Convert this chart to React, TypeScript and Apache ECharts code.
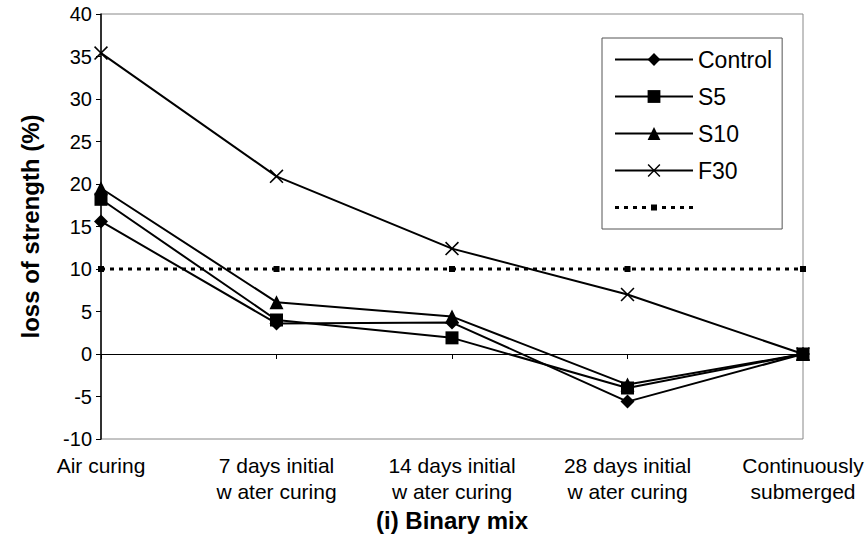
import React, { useEffect, useRef } from "react";
import * as echarts from "echarts";

const categories = [
  "Air curing",
  "7 days initial\nw ater curing",
  "14 days initial\nw ater curing",
  "28 days initial\nw ater curing",
  "Continuously\nsubmerged",
];
const controlValues = [15.6, 3.6, 3.7, -5.6, 0];
const s5Values = [18.2, 4.0, 1.9, -4.0, 0];
const s10Values = [19.5, 6.1, 4.4, -3.6, 0];
const f30Values = [35.4, 20.9, 12.4, 7.0, 0];
const limitValues = [10, 10, 10, 10, 10];
const yTicks = { min: -10, max: 40, interval: 5 };

const FONT = "'Liberation Sans', Arial, sans-serif";
const CROSS = "path://M0,1.6L1.6,0L10,8.4L18.4,0L20,1.6L11.6,10L20,18.4L18.4,20L10,11.6L1.6,20L0,18.4L8.4,10Z";

// legend icon for the dotted limit line: dashes with a small square in the middle
const dashSegs = [0, 9, 18, 27, 47, 56, 65, 74];
const DOTTED_ICON =
  "path://" +
  dashSegs.map((x) => `M${x},6.5L${x + 4},6.5L${x + 4},9.5L${x},9.5Z`).join("") +
  "M36,5L42,5L42,11L36,11Z";

export default function App() {
  const ref = useRef<HTMLDivElement>(null);
  useEffect(() => {
    if (!ref.current) return;
    const chart = echarts.init(ref.current, null, { renderer: "svg" });
    const lineSeries = (name: string, data: number[], symbol: string, size: number) => ({
      name,
      type: "line",
      data,
      symbol,
      symbolSize: size,
      showAllSymbol: true,
      lineStyle: { color: "#000", width: 2 },
      itemStyle: { color: "#000" },
      z: 3,
    });
    chart.setOption({
      animation: false,
      backgroundColor: "#fff",
      textStyle: { fontFamily: FONT, color: "#000" },
      grid: {
        left: 101,
        top: 14,
        right: 65,
        bottom: 108,
        show: true,
        borderColor: "#888",
        borderWidth: 1,
        backgroundColor: "transparent",
      },
      legend: {
        orient: "vertical",
        left: 602,
        top: 38,
        padding: [10, 10, 10, 12],
        itemWidth: 78,
        itemHeight: 16,
        itemGap: 14,
        backgroundColor: "#fff",
        borderColor: "#555",
        borderWidth: 1,
        borderRadius: 0,
        textStyle: { fontSize: 23, fontFamily: FONT, color: "#000" },
        data: [
          "Control",
          "S5",
          "S10",
          "F30",
          { name: " ", icon: DOTTED_ICON, itemStyle: { color: "#000" } },
        ],
      },
      xAxis: [
        {
          type: "category",
          data: categories,
          boundaryGap: false,
          position: "bottom",
          axisLine: { show: false, onZero: false },
          axisTick: { show: false },
          axisLabel: {
            fontSize: 21,
            lineHeight: 26,
            margin: 13,
            color: "#000",
            fontFamily: FONT,
            interval: 0,
          },
          name: "(i) Binary mix",
          nameLocation: "middle",
          nameGap: 67,
          nameTextStyle: { fontSize: 24, fontWeight: "bold", color: "#000", fontFamily: FONT },
          splitLine: { show: false },
        },
        {
          type: "category",
          data: categories,
          boundaryGap: false,
          position: "top",
          axisLine: { show: true, onZero: true, lineStyle: { color: "#000", width: 1 } },
          axisTick: { show: true, inside: true, length: 5, lineStyle: { color: "#000" } },
          axisLabel: { show: false },
          splitLine: { show: false },
        },
      ],
      yAxis: {
        type: "value",
        min: yTicks.min,
        max: yTicks.max,
        interval: yTicks.interval,
        axisLine: { show: true, lineStyle: { color: "#000", width: 1.5 } },
        axisTick: { show: true, length: 5, lineStyle: { color: "#000" } },
        axisLabel: { fontSize: 20, margin: 9, color: "#000", fontFamily: FONT },
        splitLine: { show: false },
        name: "loss of strength (%)",
        nameLocation: "middle",
        nameGap: 59,
        nameTextStyle: { fontSize: 24, fontWeight: "bold", color: "#000", fontFamily: FONT },
      },
      series: [
        lineSeries("Control", controlValues, "diamond", 14),
        lineSeries("S5", s5Values, "rect", 13),
        lineSeries("S10", s10Values, "triangle", 14),
        lineSeries("F30", f30Values, CROSS, 14),
        {
          name: " ",
          type: "line",
          data: limitValues,
          symbol: "rect",
          symbolSize: 6,
          lineStyle: { color: "#000", width: 3, type: [4, 5], cap: "butt" },
          itemStyle: { color: "#000" },
          z: 2,
        },
      ],
    });
    return () => chart.dispose();
  }, []);
  return (
    <div
      ref={ref}
      style={{ position: "absolute", left: 0, top: 0, width: 868, height: 547 }}
    />
  );
}
